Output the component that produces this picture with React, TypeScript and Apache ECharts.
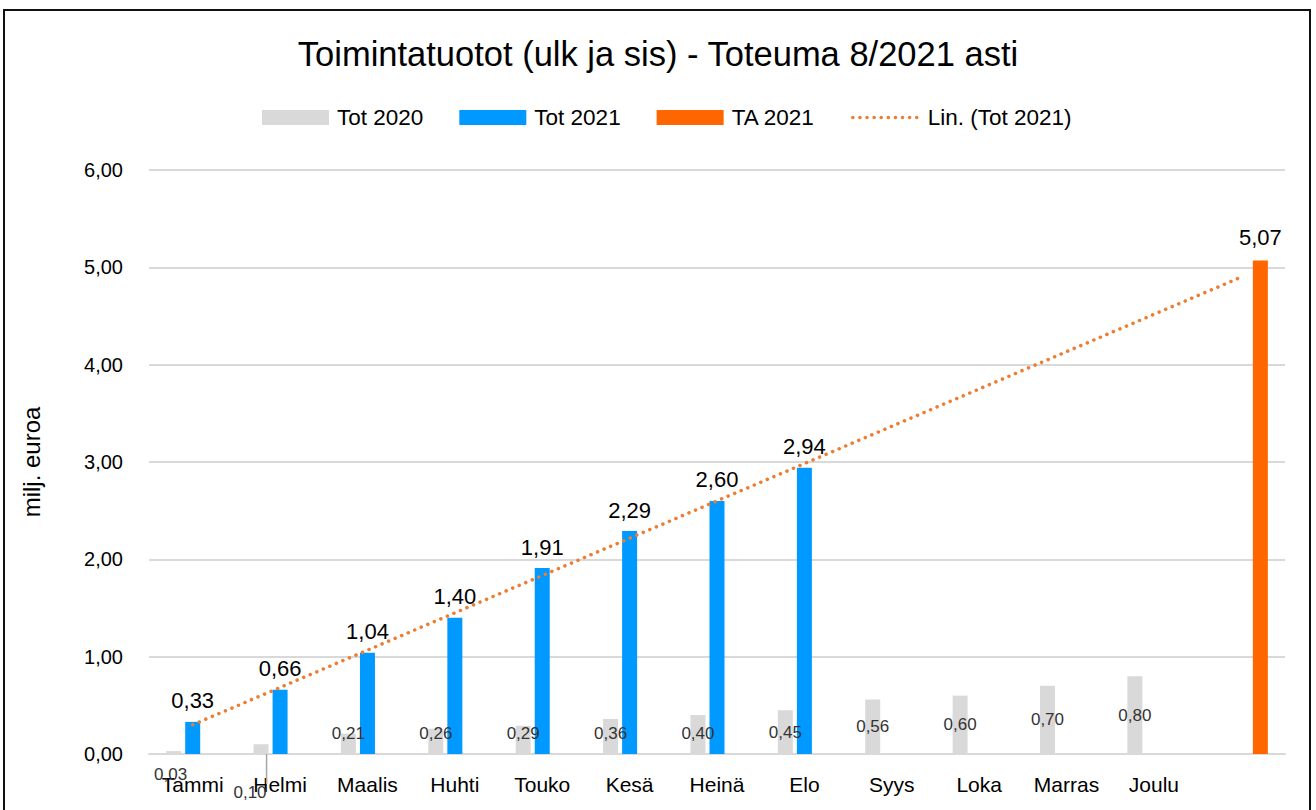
import React, { useEffect, useRef } from "react";
import * as echarts from "echarts";

const months = ["Tammi", "Helmi", "Maalis", "Huhti", "Touko", "Kesä", "Heinä", "Elo", "Syys", "Loka", "Marras", "Joulu", ""];
const tot2020 = [0.03, 0.10, 0.21, 0.26, 0.29, 0.36, 0.40, 0.45, 0.56, 0.60, 0.70, 0.80, null];
const tot2021 = [0.33, 0.66, 1.04, 1.40, 1.91, 2.29, 2.60, 2.94, null, null, null, null, null];
const ta2021 = [null, null, null, null, null, null, null, null, null, null, null, null, 5.07];
const trend2021 = [0.30, null, null, null, null, null, null, null, null, null, null, null, 4.90];
const yTicks = [0, 1, 2, 3, 4, 5, 6];

const FONT = "'Liberation Sans', Arial, sans-serif";
const fmt = (v: number) => v.toFixed(2).replace(".", ",");

export default function App() {
  const ref = useRef<HTMLDivElement>(null);
  useEffect(() => {
    if (!ref.current) return;
    const chart = echarts.init(ref.current, undefined, { renderer: "svg" });
    const grayData = tot2020.map((v, i) => {
      if (v == null) return v;
      if (i === 0) return { value: v, label: { position: "bottom", distance: 12, offset: [-3, 0] }, labelLine: { show: false } };
      if (i === 1)
        return {
          value: v,
          label: { position: "bottom", distance: 30, offset: [-11, 0] },
          labelLine: { show: true, lineStyle: { color: "#a6a6a6", width: 1.5 } },
        };
      if (v < 0.45) return { value: v, label: { position: "insideBottom", distance: 12 } };
      return { value: v, label: { position: "inside" } };
    });
    const dotted = { color: "#ed7d31", width: 3.5, type: [0.1, 7], cap: "round" };
    chart.setOption({
      animation: false,
      backgroundColor: "#ffffff",
      title: {
        text: "Toimintatuotot (ulk ja sis) - Toteuma 8/2021 asti",
        left: "center",
        top: 31,
        textStyle: { fontFamily: FONT, fontSize: 34.5, fontWeight: "normal", color: "#000" },
      },
      legend: {
        top: 101,
        left: 257,
        itemGap: 36,
        itemWidth: 67,
        itemHeight: 15,
        textStyle: { fontFamily: FONT, fontSize: 22.5, color: "#000", padding: [0, 0, 0, 3] },
        data: [
          { name: "Tot 2020", icon: "rect" },
          { name: "Tot 2021", icon: "rect" },
          { name: "TA 2021", icon: "rect" },
          { name: "Lin. (Tot 2021)", itemStyle: { opacity: 0 }, lineStyle: dotted },
        ],
      },
      grid: { left: 149, right: 31, top: 170, bottom: 56 },
      xAxis: {
        type: "category",
        data: months,
        axisTick: { show: false },
        axisLine: { lineStyle: { color: "#d9d9d9", width: 2 } },
        axisLabel: { fontFamily: FONT, fontSize: 21, color: "#000", margin: 20, interval: 0 },
      },
      yAxis: {
        type: "value",
        min: yTicks[0],
        max: yTicks[yTicks.length - 1],
        interval: 1,
        name: "milj. euroa",
        nameLocation: "middle",
        nameGap: 106,
        nameRotate: 90,
        nameTextStyle: { fontFamily: FONT, fontSize: 24, color: "#000" },
        axisLabel: { fontFamily: FONT, fontSize: 20, color: "#000", margin: 26, formatter: (v: number) => fmt(v) },
        splitLine: { lineStyle: { color: "#d9d9d9", width: 2 } },
        axisLine: { show: false },
        axisTick: { show: false },
      },
      series: [
        {
          name: "Tot 2020",
          type: "bar",
          barWidth: 15,
          barGap: "27%",
          itemStyle: { color: "#d9d9d9" },
          data: grayData,
          label: {
            show: true,
            fontFamily: FONT,
            fontSize: 17,
            color: "#333",
            formatter: (p: any) => fmt(p.value),
          },
          labelLine: { show: false },
        },
        {
          name: "Tot 2021",
          type: "bar",
          barWidth: 15,
          barGap: "27%",
          itemStyle: { color: "#0099ff" },
          data: tot2021,
          label: {
            show: true,
            position: "top",
            distance: 10,
            fontFamily: FONT,
            fontSize: 22,
            color: "#000",
            formatter: (p: any) => fmt(p.value),
          },
        },
        {
          name: "TA 2021",
          type: "bar",
          barWidth: 15,
          barGap: "27%",
          itemStyle: { color: "#ff6600" },
          data: ta2021,
          label: {
            show: true,
            position: "top",
            distance: 12,
            fontFamily: FONT,
            fontSize: 22,
            color: "#000",
            formatter: (p: any) => fmt(p.value),
          },
        },
        {
          name: "Lin. (Tot 2021)",
          type: "line",
          data: trend2021,
          connectNulls: true,
          symbol: "none",
          itemStyle: { color: "#ed7d31" },
          lineStyle: dotted,
          z: 5,
        },
      ],
    });
    return () => chart.dispose();
  }, []);
  return (
    <div style={{ position: "fixed", left: 0, top: 0, width: 1316, height: 810, overflow: "hidden", background: "#fff" }}>
      <div ref={ref} style={{ position: "absolute", left: 0, top: 0, width: 1316, height: 810 }} />
      <div
        style={{
          position: "absolute",
          left: 3,
          top: 9,
          width: 1308,
          height: 900,
          border: "2px solid #111",
          boxSizing: "border-box",
          pointerEvents: "none",
        }}
      />
    </div>
  );
}
